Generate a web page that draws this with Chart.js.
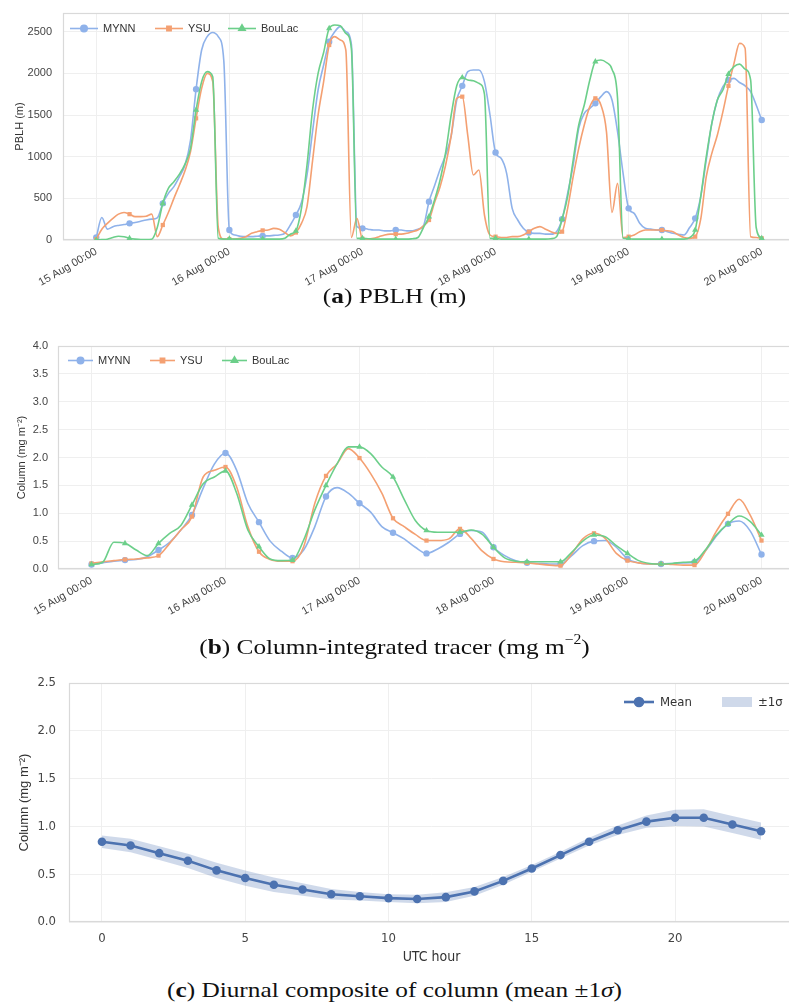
<!DOCTYPE html>
<html><head><meta charset="utf-8">
<script src="https://cdn.jsdelivr.net/npm/chart.js@4.4.1/dist/chart.umd.min.js"></script>
<style>
html,body{margin:0;padding:0;background:#fff}
body{width:789px;height:1005px;overflow:hidden;position:relative}
canvas{position:absolute;left:0}
.cap{position:absolute;left:0;width:789px;text-align:center;font-family:'Liberation Serif','DejaVu Serif',serif;font-size:22px;color:#111;line-height:1;z-index:2;white-space:nowrap;transform:scaleX(1.15);transform-origin:394.5px 50%}
.cap sup{font-size:0.62em;line-height:0;position:relative;top:-0.1em}
</style></head><body>
<canvas id="ca" width="800" height="300" style="top:0"></canvas>
<canvas id="cb" width="800" height="330" style="top:300px"></canvas>
<canvas id="cc" width="800" height="330" style="top:640px"></canvas>
<div class="cap" style="top:285px">(<b>a</b>) PBLH (m)</div>
<div class="cap" style="top:636px">(<b>b</b>) Column-integrated tracer (mg m<sup>−2</sup>)</div>
<div class="cap" style="top:979px">(<b>c</b>) Diurnal composite of column (mean ±1<i>σ</i>)</div>
<script>
// ---------- data ----------
const seriesNames = ['MYNN', 'YSU', 'BouLac'];
const dayTicks = [0, 24, 48, 72, 96, 120];
const dayLabels = ['15 Aug 00:00', '16 Aug 00:00', '17 Aug 00:00', '18 Aug 00:00', '19 Aug 00:00', '20 Aug 00:00'];

// (a) PBLH, hourly from 15 Aug 00:00
const pblhMYNN = [30,270,130,160,175,185,200,210,225,240,
  250,265,440,560,640,760,900,1200,1810,2280,
  2440,2490,2440,2150,120,60,45,40,40,45,
  50,50,55,60,80,180,300,450,780,1300,
  1800,2100,2380,2500,2560,2500,2350,160,140,130,
  120,120,110,110,120,120,110,110,130,170,
  460,650,850,1020,1250,1680,1850,2020,2040,2040,
  1900,1500,1050,980,800,380,240,140,90,80,
  80,70,70,100,250,560,900,1340,1520,1580,
  1640,1720,1780,1680,1300,800,380,320,200,140,
  130,120,120,100,80,70,60,150,260,520,
  960,1400,1680,1840,1920,1940,1890,1850,1780,1620,1440];
const pblhYSU = [10,130,200,260,310,330,310,280,280,285,
  310,40,180,330,500,660,830,1060,1460,1820,
  2000,1900,150,10,10,10,20,40,80,100,
  115,120,140,130,90,50,90,200,400,950,
  1500,1900,2340,2440,2400,2280,30,260,15,10,
  20,40,60,70,70,70,80,100,120,170,
  240,450,640,900,1250,1700,1720,1250,780,840,
  300,60,40,30,30,40,40,60,100,140,
  160,130,100,80,100,380,760,1100,1380,1600,
  1700,1620,1300,330,680,30,40,60,100,120,
  120,120,120,110,100,60,30,20,40,250,
  760,1040,1260,1540,1850,2120,2360,2300,40,30,20];
const pblhBouLac = [0,5,10,30,45,40,20,10,5,5,
  10,150,440,620,700,790,910,1100,1560,1900,
  2020,1960,20,10,15,10,10,10,10,10,
  10,10,10,10,20,70,110,380,900,1560,
  2000,2250,2540,2580,2570,2480,2300,20,20,15,
  10,10,10,10,10,10,10,15,30,150,
  280,480,720,1050,1500,1850,1950,1920,1910,1880,
  1750,20,20,10,10,10,10,10,10,10,
  10,10,15,40,250,520,960,1380,1620,1920,
  2140,2160,2130,2050,1700,20,15,10,10,10,
  10,10,10,10,10,10,10,30,120,520,
  1000,1400,1680,1800,1990,2080,2110,2050,1920,150,20];
const pblhHours = pblhMYNN.map((_, i) => i);
const pblhTicks = [0, 500, 1000, 1500, 2000, 2500];

// (b) column-integrated tracer, every 2 h from 15 Aug 00:00
const colMYNN = [0.08,0.11,0.14,0.16,0.17,0.22,0.34,0.48,0.70,0.97,
  1.45,1.88,2.08,1.77,1.18,0.84,0.50,0.32,0.20,0.34,
  0.76,1.30,1.46,1.36,1.18,1.02,0.76,0.65,0.54,0.39,
  0.28,0.36,0.48,0.63,0.69,0.66,0.39,0.24,0.15,0.11,
  0.10,0.09,0.09,0.24,0.42,0.50,0.51,0.39,0.18,0.11,
  0.09,0.09,0.10,0.11,0.12,0.33,0.60,0.81,0.86,0.68,0.26];
const colYSU = [0.10,0.13,0.15,0.17,0.18,0.20,0.24,0.46,0.70,0.94,
  1.65,1.77,1.83,1.47,0.76,0.31,0.17,0.14,0.14,0.40,
  1.18,1.67,1.89,2.16,1.99,1.71,1.36,0.91,0.76,0.62,
  0.51,0.51,0.54,0.72,0.55,0.32,0.18,0.13,0.12,0.11,
  0.09,0.07,0.06,0.27,0.54,0.64,0.55,0.28,0.15,0.11,
  0.09,0.09,0.08,0.07,0.07,0.33,0.69,0.99,1.25,0.96,0.51];
const colBouLac = [0.08,0.12,0.48,0.46,0.34,0.24,0.46,0.64,0.78,1.15,
  1.53,1.65,1.76,1.36,0.70,0.40,0.18,0.15,0.16,0.52,
  1.06,1.50,1.89,2.19,2.19,2.07,1.83,1.65,1.25,0.87,
  0.69,0.66,0.66,0.66,0.70,0.62,0.39,0.20,0.14,0.13,
  0.13,0.13,0.13,0.30,0.50,0.61,0.58,0.42,0.28,0.15,
  0.10,0.09,0.10,0.12,0.14,0.35,0.62,0.81,0.95,0.85,0.61];
const colHours = colMYNN.map((_, i) => 2 * i);
const colTicks = [0, 0.5, 1.0, 1.5, 2.0, 2.5, 3.0, 3.5, 4.0];

// (c) diurnal composite
const utcHours = [0,1,2,3,4,5,6,7,8,9,10,11,12,13,14,15,16,17,18,19,20,21,22,23];
const meanCol = [0.84,0.80,0.72,0.64,0.54,0.46,0.39,0.34,0.29,0.27,0.25,0.24,0.26,0.32,0.43,0.56,0.70,0.84,0.96,1.05,1.09,1.09,1.02,0.95];
const sdCol = [0.065,0.07,0.072,0.075,0.08,0.08,0.075,0.065,0.055,0.045,0.04,0.045,0.05,0.045,0.04,0.035,0.035,0.04,0.05,0.065,0.085,0.09,0.09,0.09];
const utcTicks = [0, 5, 10, 15, 20];
const diurnalTicks = [0, 0.5, 1.0, 1.5, 2.0, 2.5];

// ---------- styling ----------
const SANS = "'Liberation Sans', Arial, sans-serif";
const NARROW = "'Liberation Sans Narrow', 'DejaVu Sans Condensed', 'Liberation Sans', sans-serif";
const lineColors = ['#8fb2ea', '#f4a072', '#6ccf8a'];
const pointStyles = ['circle', 'rect', 'triangle'];
const pointRadii = [3.2, 3.0, 3.6];
const GRID = '#efefef';
const SPINE = '#d9d9d9';
const TICKC = '#454545';

const framePlugin = {
  id: 'frame',
  beforeDatasetsDraw(chart) {
    const {left, top, right, bottom} = chart.chartArea;
    const c = chart.ctx;
    c.save();
    c.strokeStyle = SPINE; c.lineWidth = 1.2;
    c.strokeRect(left + 0.5, top + 0.5, right - left - 1, bottom - top - 1);
    c.restore();
  }
};
const legendPlugin = {
  id: 'inLegend',
  afterDatasetsDraw(chart, args, o) {
    const c = chart.ctx;
    c.save();
    c.font = o.font;
    c.textBaseline = 'middle';
    c.textAlign = 'left';
    o.items.forEach(it => {
      c.fillStyle = it.color; c.strokeStyle = it.color;
      if (it.patch) {
        c.fillRect(it.x, o.y - 5, o.handle, 10);
      } else {
        c.lineWidth = it.lw;
        c.beginPath(); c.moveTo(it.x, o.y); c.lineTo(it.x + o.handle, o.y); c.stroke();
        Chart.helpers.drawPoint(c, {pointStyle: it.style, radius: it.r, rotation: 0, borderWidth: 1}, it.x + o.handle / 2, o.y);
      }
      c.fillStyle = o.textColor;
      c.fillText(it.label, it.x + o.handle + o.gap, o.y + 0.5);
    });
    c.restore();
  }
};

function timeChart(id, hours, seriesList, yMax, yTicks, yFmt, yTitle, cfg) {
  return new Chart(document.getElementById(id), {
    type: 'line',
    data: {
      datasets: seriesList.map((vals, k) => ({
        label: seriesNames[k],
        data: vals.map((v, i) => ({x: hours[i], y: v})),
        borderColor: lineColors[k], backgroundColor: lineColors[k],
        borderWidth: 1.6, cubicInterpolationMode: 'monotone', fill: false, order: 3 - k,
        pointStyle: pointStyles[k], pointBorderWidth: 0, pointHoverRadius: 0,
        pointRadius: c => (c.raw && c.raw.x % 6 === 0) ? pointRadii[k] : 0
      }))
    },
    options: {
      responsive: false, animation: false, events: [],
      layout: {padding: {top: cfg.top, right: 5, left: 0, bottom: 0}},
      plugins: {
        legend: {display: false}, tooltip: {enabled: false},
        inLegend: {
          y: cfg.legY, handle: cfg.handle, gap: 5, font: '11px ' + SANS, textColor: '#333',
          items: seriesNames.map((n, k) => ({label: n, x: cfg.legX[k], color: lineColors[k], style: pointStyles[k], r: pointRadii[k], lw: 1.6}))
        }
      },
      scales: {
        x: {
          type: 'linear', min: -6, max: 126,
          afterBuildTicks: s => { s.ticks = dayTicks.map(v => ({value: v})); },
          afterFit: s => { s.height = cfg.xh; s.paddingLeft = 0; s.paddingRight = 0; },
          ticks: {autoSkip: false, minRotation: 30, maxRotation: 30, padding: 5, color: TICKC,
            font: {family: SANS, size: 11}, callback: v => dayLabels[dayTicks.indexOf(v)]},
          grid: {color: GRID, drawTicks: false}, border: {display: false}
        },
        y: {
          min: 0, max: yMax,
          afterBuildTicks: s => { s.ticks = yTicks.map(v => ({value: v})); },
          afterFit: s => { s.width = cfg.yw; s.paddingTop = 0; s.paddingBottom = 0; },
          ticks: {padding: cfg.ypad, color: TICKC, font: {family: SANS, size: 11}, callback: yFmt},
          grid: {color: GRID, drawTicks: false}, border: {display: false},
          title: {display: true, text: yTitle, color: '#333', font: {family: SANS, size: 11}, padding: {top: cfg.tpad, bottom: 0}}
        }
      }
    },
    plugins: [framePlugin, legendPlugin]
  });
}

timeChart('ca', pblhHours, [pblhMYNN, pblhYSU, pblhBouLac], 2724, pblhTicks, v => String(v), 'PBLH (m)',
  {top: 13, xh: 60, yw: 63, ypad: 11, tpad: 13, legY: 28.5, handle: 28, legX: [70, 155, 228]});
timeChart('cb', colHours, [colMYNN, colYSU, colBouLac], 4.0, colTicks, v => v.toFixed(1), 'Column (mg m⁻²)',
  {top: 46, xh: 61, yw: 58, ypad: 10, tpad: 15, legY: 60.5, handle: 25, legX: [68, 150, 222]});

// (c)
const blue = '#4c72b0';
new Chart(document.getElementById('cc'), {
  type: 'line',
  data: {
    datasets: [
      {label: 'upper', data: utcHours.map((h, i) => ({x: h, y: meanCol[i] + sdCol[i]})), borderWidth: 0, pointRadius: 0, fill: '+1', backgroundColor: 'rgba(76,114,176,0.27)', order: 3, tension: 0},
      {label: 'lower', data: utcHours.map((h, i) => ({x: h, y: meanCol[i] - sdCol[i]})), borderWidth: 0, pointRadius: 0, fill: false, order: 2, tension: 0},
      {label: 'Mean', data: utcHours.map((h, i) => ({x: h, y: meanCol[i]})), borderColor: blue, backgroundColor: blue, borderWidth: 2.6, pointRadius: 4.3, pointBorderWidth: 0, pointHoverRadius: 0, tension: 0, fill: false, order: 1}
    ]
  },
  options: {
    responsive: false, animation: false, events: [],
    layout: {padding: {top: 43, right: 6, left: 0, bottom: 0}},
    plugins: {
      legend: {display: false}, tooltip: {enabled: false},
      inLegend: {
        y: 62, handle: 30, gap: 6, font: '13px ' + NARROW, textColor: '#333',
        items: [
          {label: 'Mean', x: 624, color: blue, style: 'circle', r: 4, lw: 2.6},
          {label: '±1σ', x: 722, color: 'rgba(76,114,176,0.27)', patch: true}
        ]
      }
    },
    scales: {
      x: {
        type: 'linear', min: -1.15, max: 24.15,
        afterBuildTicks: s => { s.ticks = utcTicks.map(v => ({value: v})); },
        afterFit: s => { s.height = 48; s.paddingLeft = 0; s.paddingRight = 0; },
        ticks: {autoSkip: false, maxRotation: 0, padding: 9, color: TICKC, font: {family: NARROW, size: 13}},
        grid: {color: GRID, drawTicks: false}, border: {display: false},
        title: {display: true, text: 'UTC hour', color: '#333', font: {family: NARROW, size: 14}, padding: {top: 0, bottom: 4}}
      },
      y: {
        min: 0, max: 2.5,
        afterBuildTicks: s => { s.ticks = diurnalTicks.map(v => ({value: v})); },
        afterFit: s => { s.width = 69; s.paddingTop = 0; s.paddingBottom = 0; },
        ticks: {padding: 13, color: TICKC, font: {family: NARROW, size: 13}, callback: v => v.toFixed(1)},
        grid: {color: GRID, drawTicks: false}, border: {display: false},
        title: {display: true, text: 'Column (mg m⁻²)', color: '#333', font: {family: SANS, size: 13}, padding: {top: 17, bottom: 0}}
      }
    }
  },
  plugins: [framePlugin, legendPlugin]
});
</script>
</body></html>
